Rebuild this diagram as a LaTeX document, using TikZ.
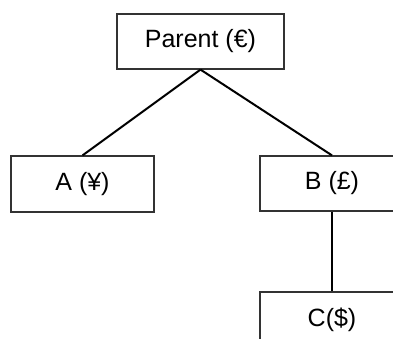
\documentclass[tikz,border=0pt]{standalone}
\usepackage{fontspec}
\setmainfont{Liberation Sans}
\begin{document}
\begin{tikzpicture}[x=1pt,y=-1pt,
  box/.style={draw=black!80,line width=1.2pt,rectangle,fill=white,
    minimum width=144pt,minimum height=55pt,inner sep=0pt,
    font=\fontsize{25}{30}\selectfont},
  link/.style={draw=black,line width=2pt}]
\useasboundingbox (0,0) rectangle (393,339);
\clip (0,0) rectangle (393,339);
\fill[white] (0,0) rectangle (393,339);
\node[box,minimum width=167pt] (p) at (200.5,41.5) {Parent (€)};
\node[box,minimum width=143pt,minimum height=56pt] (a) at (82.5,184) {A (¥)};
\node[box] (b) at (332,183.5) {B (£)};
\node[box,minimum height=56pt] (c) at (332,320) {C(\$)};
\draw[link] (p.south) -- (a.north);
\draw[link] (p.south) -- (b.north);
\draw[link] (b.south) -- (c.north);
\end{tikzpicture}
\end{document}
